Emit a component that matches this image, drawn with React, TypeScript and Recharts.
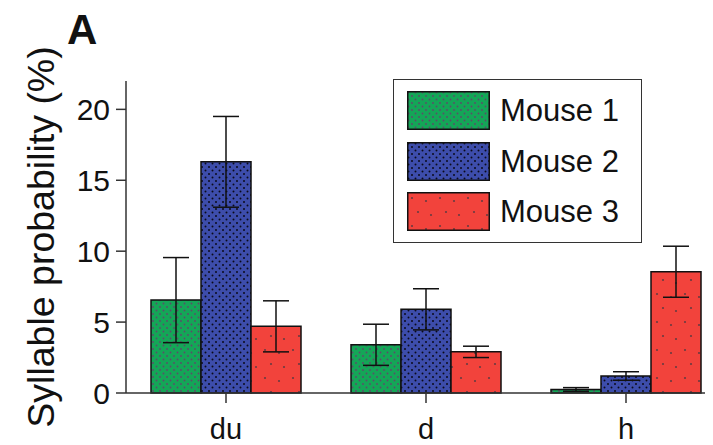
import { BarChart, Bar, XAxis, YAxis, ErrorBar } from "recharts";

const categories = ["du", "d", "h"];
const mouse1 = [6.55, 3.4, 0.25];
const mouse1Err = [3.0, 1.45, 0.13];
const mouse2 = [16.3, 5.9, 1.2];
const mouse2Err = [3.2, 1.45, 0.3];
const mouse3 = [4.7, 2.9, 8.55];
const mouse3Err = [1.8, 0.4, 1.8];
const yTicks = [0, 5, 10, 15, 20];
const seriesNames = ["Mouse 1", "Mouse 2", "Mouse 3"];

const data = categories.map((name, i) => ({
  name,
  m1: mouse1[i],
  m1e: mouse1Err[i],
  m2: mouse2[i],
  m2e: mouse2Err[i],
  m3: mouse3[i],
  m3e: mouse3Err[i],
}));

const FONT = '"Liberation Sans", Arial, Helvetica, sans-serif';
const AXIS = "#333";
const patIds = ["patGreen", "patBlue", "patRed"];

function Swatch({ id }: { id: string }) {
  return (
    <svg width={83} height={39} style={{ display: "block" }}>
      <rect x={0.75} y={0.75} width={81.5} height={37.5} fill={`url(#${id})`} stroke="#111" strokeWidth={1.5} />
    </svg>
  );
}

export default function App() {
  return (
    <div style={{ position: "relative", width: 705, height: 437, fontFamily: FONT }}>
      {/* chart is wider than the window on purpose: the last group runs off the right edge */}
      <div style={{ position: "absolute", left: 0, top: 0, width: 705, height: 437, overflow: "hidden" }}>
        <BarChart
          width={718}
          height={437}
          data={data}
          margin={{ top: 73, right: 0, left: 0, bottom: 0 }}
          barCategoryGap="12.5%"
          barGap={0}
        >
          <defs>
            <pattern id="patGreen" width={7} height={7} patternUnits="userSpaceOnUse">
              <rect width={7} height={7} fill="#14a657" />
              <circle cx={1.5} cy={1.5} r={0.9} fill="#5e4a6a" />
              <circle cx={5} cy={5} r={0.9} fill="#5e4a6a" />
            </pattern>
            <pattern id="patBlue" width={7} height={7} patternUnits="userSpaceOnUse">
              <rect width={7} height={7} fill="#3d4dab" />
              <circle cx={1.5} cy={1.5} r={1} fill="#0a0a1a" />
              <circle cx={5} cy={5} r={1} fill="#0a0a1a" />
            </pattern>
            <pattern id="patRed" width={28} height={28} patternUnits="userSpaceOnUse">
              <rect width={28} height={28} fill="#f2433c" />
              <circle cx={5} cy={6} r={1.1} fill="#6a3a40" />
              <circle cx={19} cy={9} r={1.1} fill="#6a3a40" />
              <circle cx={11} cy={20} r={1.1} fill="#6a3a40" />
              <circle cx={24} cy={23} r={1.1} fill="#6a3a40" />
            </pattern>
          </defs>
          <XAxis
            dataKey="name"
            height={52}
            tickSize={10}
            tickMargin={15}
            axisLine={{ stroke: AXIS, strokeWidth: 1.5 }}
            tickLine={{ stroke: AXIS, strokeWidth: 1.5 }}
            tick={{ fill: "#111", fontSize: 29, fontFamily: FONT }}
          />
          <YAxis
            width={118}
            domain={[0, 22]}
            ticks={yTicks}
            tickSize={10}
            tickMargin={6}
            axisLine={{ stroke: AXIS, strokeWidth: 1.5 }}
            tickLine={{ stroke: AXIS, strokeWidth: 1.5 }}
            tick={{ fill: "#111", fontSize: 30, fontFamily: FONT }}
            label={{
              value: "Syllable probability (%)",
              angle: -90,
              position: "insideLeft",
              offset: 33,
              style: { textAnchor: "middle", fontSize: 37.5, fontFamily: FONT, fill: "#111" },
            }}
          />
          <Bar dataKey="m1" fill="url(#patGreen)" stroke="#111" strokeWidth={1.5} isAnimationActive={false}>
            <ErrorBar dataKey="m1e" width={13} stroke="#111" strokeWidth={1.5} />
          </Bar>
          <Bar dataKey="m2" fill="url(#patBlue)" stroke="#111" strokeWidth={1.5} isAnimationActive={false}>
            <ErrorBar dataKey="m2e" width={13} stroke="#111" strokeWidth={1.5} />
          </Bar>
          <Bar dataKey="m3" fill="url(#patRed)" stroke="#111" strokeWidth={1.5} isAnimationActive={false}>
            <ErrorBar dataKey="m3e" width={13} stroke="#111" strokeWidth={1.5} />
          </Bar>
        </BarChart>
      </div>

      {/* panel letter */}
      <div style={{ position: "absolute", left: 59, top: -2, fontSize: 42, fontWeight: 700, lineHeight: "48px", color: "#111" }}>
        A
      </div>

      {/* legend box */}
      <div
        style={{
          position: "absolute",
          left: 385,
          top: 71,
          width: 249,
          height: 164,
          boxSizing: "border-box",
          border: `1.5px solid ${AXIS}`,
          background: "#fff",
        }}
      >
        {seriesNames.map((n, i) => (
          <div
            key={n}
            style={{
              position: "absolute",
              left: 13,
              top: 11 + i * 50.5,
              height: 39,
              display: "flex",
              alignItems: "center",
            }}
          >
            <Swatch id={patIds[i]} />
            <span style={{ marginLeft: 10, fontSize: 31, lineHeight: "39px", color: "#111", whiteSpace: "nowrap" }}>{n}</span>
          </div>
        ))}
      </div>
    </div>
  );
}
